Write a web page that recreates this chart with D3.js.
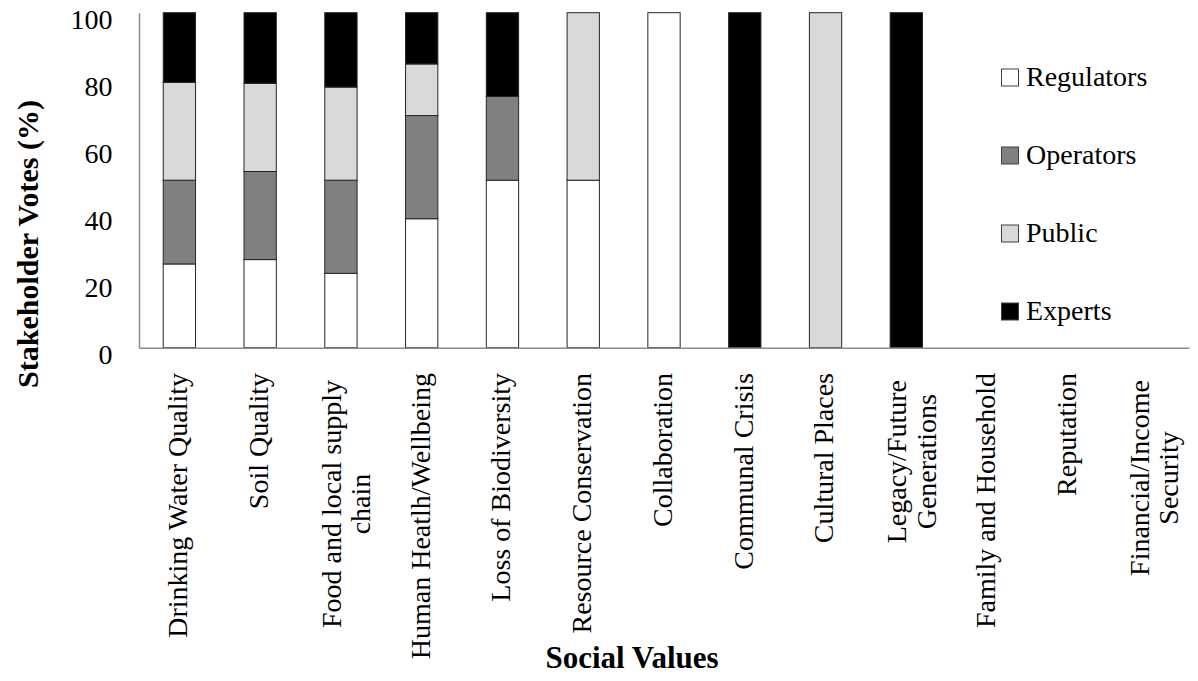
<!DOCTYPE html>
<html>
<head>
<meta charset="utf-8">
<script src="https://cdn.jsdelivr.net/npm/d3@7"></script>
<style>
  html, body { margin: 0; padding: 0; background: #ffffff; }
  svg { display: block; }
</style>
</head>
<body>
<svg id="chart" width="1198" height="681"></svg>
<script>
// ---- data ----
const categories = [
  "Drinking Water Quality",
  "Soil Quality",
  "Food and local supply\nchain",
  "Human Heatlh/Wellbeing",
  "Loss of Biodiversity",
  "Resource Conservation",
  "Collaboration",
  "Communal Crisis",
  "Cultural Places",
  "Legacy/Future\nGenerations",
  "Family and Household",
  "Reputation",
  "Financial/Income\nSecurity"
];
const seriesNames = ["Regulators", "Operators", "Public", "Experts"];
const regulators = [25, 26.3, 22.2, 38.5, 50, 50, 100, 0, 0, 0, 0, 0, 0];
const operators  = [25, 26.3, 27.8, 30.8, 25, 0, 0, 0, 0, 0, 0, 0, 0];
const publicVals = [29.2, 26.3, 27.8, 15.4, 0, 50, 0, 0, 100, 0, 0, 0, 0];
const experts    = [20.8, 21.1, 22.2, 15.3, 25, 0, 0, 100, 0, 100, 0, 0, 0];
const yTicks = [0, 20, 40, 60, 80, 100];
const yTitle = "Stakeholder Votes (%)";
const xTitle = "Social Values";
const colors = ["#ffffff", "#808080", "#d9d9d9", "#000000"];

// ---- table for stacking ----
const table = categories.map((c, i) => ({
  cat: c,
  Regulators: regulators[i],
  Operators: operators[i],
  Public: publicVals[i],
  Experts: experts[i]
}));

const svg = d3.select("#chart");
const plotLeft = 139, plotRight = 1189, plotTop = 12.7, plotBottom = 347.7;
const FONT = "'Liberation Serif', 'Times New Roman', serif";

const x = d3.scaleBand().domain(categories).range([plotLeft, plotRight])
  .paddingInner(0.6).paddingOuter(0.3);
const y = d3.scaleLinear().domain([0, 100]).range([plotBottom, plotTop]);
const color = d3.scaleOrdinal().domain(seriesNames).range(colors);

const stacked = d3.stack().keys(seriesNames)(table);

// bars
svg.append("g").selectAll("g").data(stacked).join("g")
  .attr("fill", d => color(d.key))
  .selectAll("rect").data(d => d.filter(s => s[1] - s[0] > 0)).join("rect")
  .attr("x", d => x(d.data.cat))
  .attr("width", x.bandwidth())
  .attr("y", d => y(d[1]))
  .attr("height", d => y(d[0]) - y(d[1]))
  .attr("stroke", "#262626")
  .attr("stroke-width", 1);

// y axis
const yAxis = svg.append("g").attr("transform", `translate(${plotLeft},0)`)
  .call(d3.axisLeft(y).tickValues(yTicks).tickSize(0).tickSizeOuter(0).tickPadding(26.5));
yAxis.select(".domain").attr("stroke", "#8c8c8c").attr("stroke-width", 1.5);
yAxis.selectAll("text")
  .attr("font-family", FONT).attr("font-size", 28).attr("fill", "#000")
  .attr("dy", null).attr("dominant-baseline", "auto")
  .attr("y", 15.5);

// x axis
const xAxis = svg.append("g").attr("transform", `translate(0,${plotBottom})`)
  .call(d3.axisBottom(x).tickSize(0).tickSizeOuter(0).tickFormat(""));
xAxis.select(".domain").attr("stroke", "#8c8c8c").attr("stroke-width", 1.5);

// category labels (rotated)
const labG = svg.append("g");
categories.forEach(c => {
  const lines = c.split("\n");
  const cx = x(c) + x.bandwidth() / 2;
  const endY = lines.length > 1 ? 380 : 373;
  const g = labG.append("g").attr("transform", `translate(${cx},${endY}) rotate(-90)`);
  if (lines.length === 1) {
    g.append("text").attr("x", 0).attr("y", 7.8).attr("text-anchor", "end")
      .attr("font-family", FONT).attr("font-size", 28).attr("fill", "#000").text(lines[0]);
  } else {
    const t = lines.map((ln, i) => g.append("text").attr("y", 0 + i * 29.5)
      .attr("text-anchor", "middle")
      .attr("font-family", FONT).attr("font-size", 28).attr("fill", "#000").text(ln));
    const maxW = d3.max(t, n => n.node().getComputedTextLength());
    t.forEach(n => n.attr("x", -maxW / 2));
  }
});

// axis titles
svg.append("text")
  .attr("transform", `translate(38,244) rotate(-90)`)
  .attr("text-anchor", "middle")
  .attr("font-family", FONT).attr("font-weight", "bold").attr("font-size", 30)
  .attr("fill", "#000").text(yTitle);
svg.append("text")
  .attr("x", 632).attr("y", 668).attr("text-anchor", "middle")
  .attr("font-family", FONT).attr("font-weight", "bold").attr("font-size", 31)
  .attr("fill", "#000").text(xTitle);

// legend
const legend = svg.append("g");
const legY = d3.scalePoint().domain(seriesNames).range([77.5, 311.5]);
seriesNames.forEach(n => {
  legend.append("rect")
    .attr("x", 1001.5).attr("y", legY(n) - 8.5).attr("width", 17).attr("height", 17)
    .attr("fill", color(n)).attr("stroke", "#404040").attr("stroke-width", 1);
  legend.append("text")
    .attr("x", 1026).attr("y", legY(n) + 8.8)
    .attr("font-family", FONT).attr("font-size", 28).attr("fill", "#000").text(n);
});
</script>
</body>
</html>
